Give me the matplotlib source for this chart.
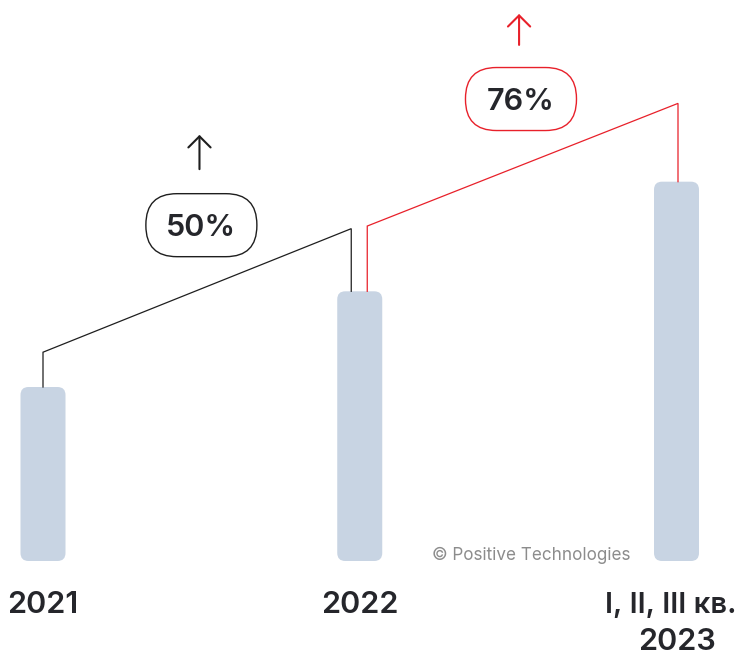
import matplotlib.pyplot as plt
from matplotlib.patches import FancyBboxPatch

years = ["2021", "2022", "I, II, III кв."]
years_second = ["", "", "2023"]
values = [100, 155, 218]
growth_labels = ["50%", "76%"]
growth_colors = ["#1e1e1e", "#e8202a"]

bar_color = "#c8d4e3"
text_color = "#25262b"

# pixel scale of the layout (px per data unit)
px_x = 316.75
px_y = 1.74
aspect = px_x / px_y

fig = plt.figure(figsize=(7.38, 6.56), dpi=100)
ax = fig.add_axes([0, 0, 1, 1])
ax.set_xlim(-43 / px_x, (738 - 43) / px_x)
ax.set_ylim(-(656 - 561) / px_y, 561 / px_y)
ax.axis("off")

bar_w = 45 / px_x
for i, v in enumerate(values):
    ax.add_patch(FancyBboxPatch((i - bar_w / 2, 0), bar_w, v,
                                boxstyle="round,pad=0,rounding_size=%f" % (8 / px_x),
                                mutation_aspect=aspect, fc=bar_color, ec="none"))

# connectors between consecutive bars
x_off = [(-8.5 / px_x, 8 / px_x), (7.5 / px_x, 1.5 / px_x)]
rise = [(20, 36), (37.5, 45)]
for k in range(2):
    x0 = k + (0 if k == 0 else x_off[k][0])
    x1 = k + 1 + (x_off[k][0] if k == 0 else x_off[k][1])
    y0 = values[k] + rise[k][0]
    y1 = values[k + 1] + rise[k][1]
    ax.plot([x0, x0, x1, x1], [values[k], y0, y1, values[k + 1]],
            color=growth_colors[k], lw=0.9, solid_joinstyle="miter")

# growth labels
box_w = 111 / px_x
box_h = 63 / px_y
label_y = [193, 265.5]
arrow_y = [(223.6, 246.5), (295, 316)]
for k in range(2):
    cx = k + 0.5 + (0 if k == 0 else 0.009)
    cy = label_y[k]
    ax.add_patch(FancyBboxPatch((cx - box_w / 2, cy - box_h / 2), box_w, box_h,
                                boxstyle="round,pad=0,rounding_size=%f" % (31 / px_x),
                                mutation_aspect=aspect, fc="white",
                                ec=growth_colors[k], lw=1.0))
    ax.text(cx, cy, growth_labels[k], ha="center", va="center_baseline",
            fontsize=22, fontweight=600, family="Inter", color=text_color)
    ax.annotate("", xy=(cx - 0.006, arrow_y[k][1]), xytext=(cx - 0.006, arrow_y[k][0]),
                arrowprops=dict(arrowstyle="->,head_length=0.8,head_width=0.8",
                                color=growth_colors[k], lw=1.5))

for i in range(3):
    if years_second[i]:
        ax.text(i + 60 / px_x, -23.6, years[i], ha="right", va="center_baseline",
                fontsize=21, fontweight=600, family="Inter", color=text_color)
        ax.text(i, -44.6, years_second[i], ha="center", va="center_baseline",
                fontsize=22, fontweight=600, family="Inter", color=text_color)
    else:
        ax.text(i, -23.6, years[i], ha="center", va="center_baseline",
                fontsize=22, fontweight=600, family="Inter", color=text_color)

ax.text(1.541, 3.4, "© Positive Technologies", ha="center", va="center",
        fontsize=12.3, family="Inter", color="#8c8c8c")

fig.savefig("out.png", dpi=100)
